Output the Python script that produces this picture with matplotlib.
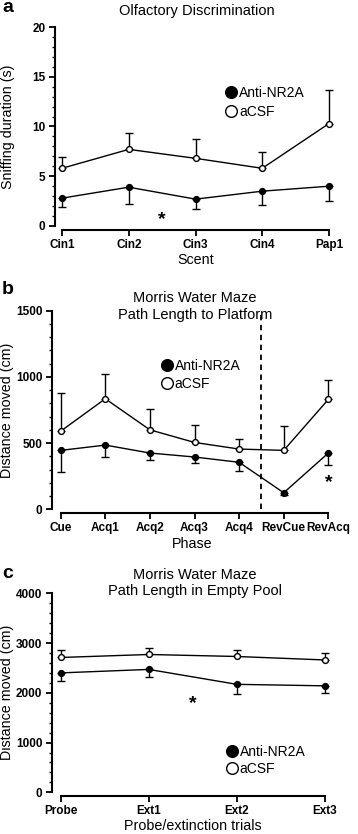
import matplotlib
matplotlib.use("Agg")
import matplotlib.pyplot as plt
from matplotlib.lines import Line2D
from matplotlib.ticker import MultipleLocator

plt.rcParams['font.family'] = ['Liberation Sans', 'DejaVu Sans']

# ---------------- data ----------------
scents = ["Cin1", "Cin2", "Cin3", "Cin4", "Pap1"]
a_acsf = [5.8, 7.7, 6.8, 5.8, 10.3]
a_acsf_err = [1.1, 1.6, 1.9, 1.6, 3.4]
a_anti = [2.8, 3.9, 2.7, 3.5, 4.0]
a_anti_err = [0.9, 1.7, 0.95, 1.4, 1.5]

phases = ["Cue", "Acq1", "Acq2", "Acq3", "Acq4", "RevCue", "RevAcq"]
b_acsf = [590, 835, 600, 505, 455, 445, 830]
b_acsf_err = [290, 190, 160, 130, 75, 185, 150]
b_anti = [445, 485, 425, 395, 355, 125, 425]
b_anti_err = [165, 90, 55, 45, 65, 15, 90]

trials = ["Probe", "Ext1", "Ext2", "Ext3"]
c_acsf = [2710, 2770, 2730, 2660]
c_acsf_err = [160, 140, 130, 150]
c_anti = [2400, 2470, 2170, 2140]
c_anti_err = [170, 160, 190, 150]

W, H = 358, 834
fig = plt.figure(figsize=(W / 100, H / 100), dpi=100)


def px_axes(left, right, top, bottom):
    return fig.add_axes([left / W, 1 - bottom / H, (right - left) / W, (bottom - top) / H])


def style(ax, n, ymax, major, minor, xlo):
    ax.set_xlim(xlo, n - 1 + 0.1)
    ax.set_ylim(0, ymax)
    for s in ("top", "right"):
        ax.spines[s].set_visible(False)
    ax.spines["left"].set_linewidth(1.5)
    ax.spines["bottom"].set_linewidth(1.5)
    ax.spines["bottom"].set_bounds(0, n - 1)
    ax.spines["bottom"].set_position(("outward", 3))
    ax.yaxis.set_major_locator(MultipleLocator(major))
    ax.yaxis.set_minor_locator(MultipleLocator(minor))
    ax.tick_params(axis="both", which="major", width=1.3, length=4, labelsize=8.5, pad=3)
    ax.tick_params(axis="x", which="major", pad=2.5)
    ax.tick_params(axis="y", which="minor", width=1.0, length=2.5)
    for lab in ax.get_xticklabels() + ax.get_yticklabels():
        lab.set_fontweight("bold")


def labels(ax, xlabel, ylabel, xl_y, yl_x):
    ax.set_xlabel(xlabel, fontsize=10.3)
    ax.set_ylabel(ylabel, fontsize=10.3)
    ax.xaxis.set_label_coords(0.5, xl_y)
    ax.yaxis.set_label_coords(yl_x, 0.5)
    ax.xaxis.label.set_va("center")
    ax.yaxis.label.set_va("center")


def plot_groups(ax, labels_, acsf, acsf_err, anti, anti_err):
    x = list(range(len(labels_)))
    z = [0] * len(labels_)
    ax.errorbar(x, anti, yerr=[anti_err, z], fmt="o", color="black", ms=4.2,
                mfc="black", mec="black", lw=1, capsize=3, capthick=1, zorder=3)
    ax.plot(x, anti, color="black", lw=1, zorder=2)
    ax.errorbar(x, acsf, yerr=[z, acsf_err], fmt="o", color="black", ms=4.2,
                mfc="white", mec="black", mew=1, lw=1, capsize=3, capthick=1, zorder=3)
    ax.plot(x, acsf, color="black", lw=1, zorder=2)
    ax.set_xticks(x)
    ax.set_xticklabels(labels_)


def legend(ax, bx, by, spacing):
    handles = [Line2D([], [], ls="none", marker="o", ms=8.4, mfc="black", mec="black"),
               Line2D([], [], ls="none", marker="o", ms=8.4, mfc="white", mec="black", mew=1)]
    ax.legend(handles, ["Anti-NR2A", "aCSF"], loc="upper left", bbox_to_anchor=(bx, by),
              frameon=False, borderpad=0, borderaxespad=0, handlelength=0.9,
              handletextpad=0.1, labelspacing=spacing, fontsize=10)


# ---------------- panel a ----------------
axa = px_axes(55, 335.7, 27, 226)
plot_groups(axa, scents, a_acsf, a_acsf_err, a_anti, a_anti_err)
style(axa, len(scents), 20, 5, 1, -0.105)
labels(axa, "Scent", "Sniffing duration (s)", -0.171, -0.167)
legend(axa, 0.606, 0.706, 0.4)
axa.text(1.5, 0.6, "*", ha="center", va="center", fontsize=14, fontweight="bold")
fig.text(197 / W, 1 - 11 / H, "Olfactory Discrimination", ha="center", va="center", fontsize=10.5)
fig.text(2 / W, 1 - 7 / H, "a", ha="left", va="center", fontsize=14, fontweight="bold")

# ---------------- panel b ----------------
axb = px_axes(52, 332.8, 310.7, 509.3)
plot_groups(axb, phases, b_acsf, b_acsf_err, b_anti, b_anti_err)
style(axb, len(phases), 1500, 500, 100, -0.195)
axb.axvline(4.5, ymin=0, ymax=0.99, color="black", lw=1.3, ls=(0, (3, 2.5)), zorder=1)
labels(axb, "Phase", "Distance moved (cm)", -0.175, -0.16)
legend(axb, 0.388, 0.755, 0.25)
axb.text(6, 200, "*", ha="center", va="center", fontsize=14, fontweight="bold")
fig.text(195 / W, 1 - 298 / H, "Morris Water Maze", ha="center", va="center", fontsize=10.5)
fig.text(195 / W, 1 - 315 / H, "Path Length to Platform", ha="center", va="center", fontsize=10.5)
fig.text(2 / W, 1 - 290 / H, "b", ha="left", va="center", fontsize=14, fontweight="bold")

# ---------------- panel c ----------------
axc = px_axes(52, 333.8, 593.3, 792.3)
plot_groups(axc, trials, c_acsf, c_acsf_err, c_anti, c_anti_err)
style(axc, len(trials), 4000, 1000, 200, -0.097)
labels(axc, "Probe/extinction trials", "Distance moved (cm)", -0.169, -0.16)
legend(axc, 0.617, 0.24, 0.25)
axc.text(1.5, 1780, "*", ha="center", va="center", fontsize=14, fontweight="bold")
fig.text(195 / W, 1 - 575 / H, "Morris Water Maze", ha="center", va="center", fontsize=10.5)
fig.text(195 / W, 1 - 591 / H, "Path Length in Empty Pool", ha="center", va="center", fontsize=10.5)
fig.text(2 / W, 1 - 573 / H, "c", ha="left", va="center", fontsize=14, fontweight="bold")

fig.savefig("out.png", dpi=100)
